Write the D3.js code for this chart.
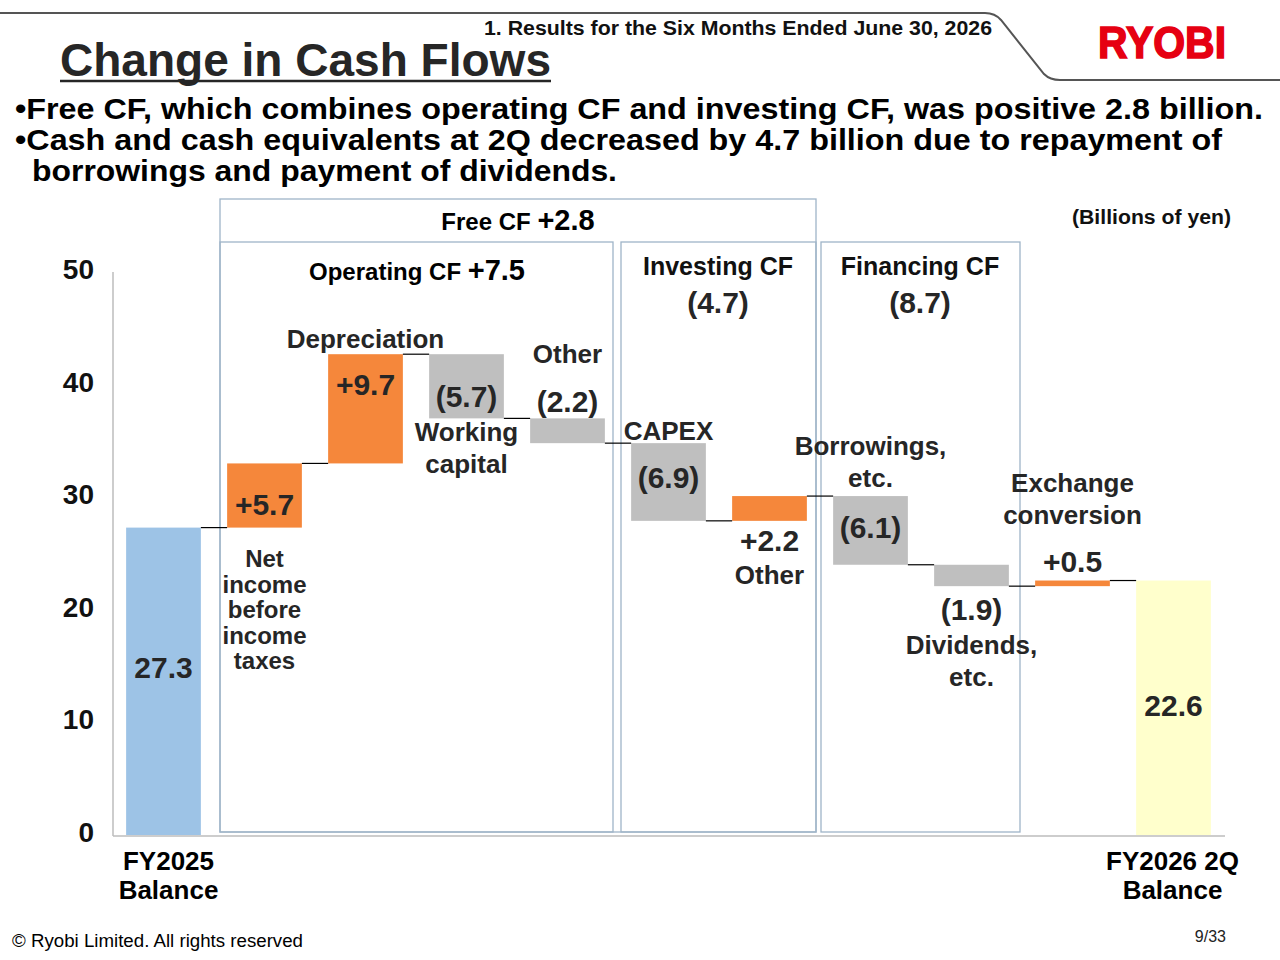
<!DOCTYPE html>
<html>
<head>
<meta charset="utf-8">
<script src="https://cdn.jsdelivr.net/npm/d3@7"></script>
<style>
  html, body { margin: 0; padding: 0; background: #fff; }
  svg { display: block; font-family: "Liberation Sans", Arial, sans-serif; }
</style>
</head>
<body>
<div id="chart"></div>
<script>
// waterfall data (billions of yen)
const categories = ['FY2025 Balance', 'Net income before income taxes', 'Depreciation',
    'Working capital', 'Other (operating)', 'CAPEX', 'Other (investing)',
    'Borrowings, etc.', 'Dividends, etc.', 'Exchange conversion', 'FY2026 2Q Balance'];
const values = [27.3, 5.7, 9.7, -5.7, -2.2, -6.9, 2.2, -6.1, -1.9, 0.5, 22.6];
const kinds = ['start', 'delta', 'delta', 'delta', 'delta', 'delta', 'delta', 'delta', 'delta', 'delta', 'end'];
const yTicks = [0, 10, 20, 30, 40, 50];

const groups = [
    { name: 'Free CF', total: '+2.8' },
    { name: 'Operating CF', total: '+7.5' },
    { name: 'Investing CF', total: '(4.7)' },
    { name: 'Financing CF', total: '(8.7)' }
];

const bullets = [
    '\u2022Free CF, which combines operating CF and investing CF, was positive 2.8 billion.',
    '\u2022Cash and cash equivalents at 2Q  decreased by 4.7 billion due to repayment of',
    'borrowings and payment of dividends.'
];

// label placement for each bar: [text, anchor, offset px, font size]
const labelLayout = [
    [['27.3', 'mid', 0, 30]],
    [['+5.7', 'bottom', -23, 30], ['Net', 'bottom', 31, 24], ['income', 'bottom', 57, 24],
     ['before', 'bottom', 82, 24], ['income', 'bottom', 108, 24], ['taxes', 'bottom', 133, 24]],
    [['Depreciation', 'top', -16, 26], ['+9.7', 'top', 30, 30]],
    [['(5.7)', 'top', 42, 30], ['Working', 'bottom', 13, 26], ['capital', 'bottom', 45, 26]],
    [['Other', 'top', -65, 26], ['(2.2)', 'top', -17, 30]],
    [['CAPEX', 'top', -13, 26], ['(6.9)', 'top', 34, 30]],
    [['+2.2', 'bottom', 19, 30], ['Other', 'bottom', 54, 26]],
    [['Borrowings,', 'top', -50, 26], ['etc.', 'top', -18, 26], ['(6.1)', 'top', 31, 30]],
    [['(1.9)', 'bottom', 23, 30], ['Dividends,', 'bottom', 58, 26], ['etc.', 'bottom', 90, 26]],
    [['Exchange', 'top', -98, 26], ['conversion', 'top', -66, 26], ['+0.5', 'top', -19, 30]],
    [['22.6', 'mid', 0, 30]]
];

const colors = { start: '#9dc3e6', end: '#ffffcc', up: '#f5873b', down: '#bfbfbf' };
const textColor = '#262626';

const W = 1280, H = 960;
const svg = d3.select('#chart').append('svg')
    .attr('width', W)
    .attr('height', H);

// ---- header ----
svg.append('path')
    .attr('d', 'M0,13 L985,13 Q995,13 1001,20 L1044,74 Q1050,80 1060,80 L1280,80')
    .attr('fill', 'none')
    .attr('stroke', '#555')
    .attr('stroke-width', 2);

svg.append('text')
    .attr('x', 992).attr('y', 35)
    .attr('text-anchor', 'end')
    .attr('font-size', 20).attr('font-weight', 'bold')
    .attr('fill', '#111')
    .attr('textLength', 508).attr('lengthAdjust', 'spacingAndGlyphs')
    .text('1. Results for the Six Months Ended June 30, 2026');

svg.append('text')
    .attr('x', 60).attr('y', 76)
    .attr('font-size', 46).attr('font-weight', 'bold')
    .attr('fill', '#262626')
    .attr('textLength', 491).attr('lengthAdjust', 'spacingAndGlyphs')
    .text('Change in Cash Flows');
svg.append('line')
    .attr('x1', 60).attr('x2', 551)
    .attr('y1', 81).attr('y2', 81)
    .attr('stroke', '#262626').attr('stroke-width', 2.5);

svg.append('text')
    .attr('x', 1098).attr('y', 58)
    .attr('font-size', 45).attr('font-weight', 'bold')
    .attr('fill', '#e60012')
    .attr('stroke', '#e60012').attr('stroke-width', 1.6)
    .attr('textLength', 128).attr('lengthAdjust', 'spacingAndGlyphs')
    .text('RYOBI');

const bulletPos = [[15, 119, 1248], [15, 150, 1207], [32, 181, 585]];
bullets.forEach((b, i) => {
    svg.append('text')
        .attr('x', bulletPos[i][0]).attr('y', bulletPos[i][1])
        .attr('font-size', 30).attr('font-weight', 'bold')
        .attr('fill', '#000')
        .attr('textLength', bulletPos[i][2]).attr('lengthAdjust', 'spacingAndGlyphs')
        .text(b);
});

// ---- chart ----
const x = d3.scaleBand()
    .domain(categories)
    .range([113, 1224])
    .paddingInner(0.26)
    .paddingOuter(0.13);

const y = d3.scaleLinear()
    .domain([0, 50])
    .range([835, 272]);

// running totals
let run = 0;
const bars = categories.map((c, i) => {
    let lo, hi, color;
    if (kinds[i] === 'delta') {
        const next = run + values[i];
        lo = Math.min(run, next); hi = Math.max(run, next);
        color = values[i] >= 0 ? colors.up : colors.down;
        run = next;
    } else {
        lo = 0; hi = values[i];
        color = kinds[i] === 'start' ? colors.start : colors.end;
        run = values[i];
    }
    return { c, i, lo, hi, color, level: run };
});

// group boxes
const boxStroke = '#9fb4c8';
const boxes = [
    { x0: 220, x1: 816, y0: 199 },
    { x0: 220, x1: 613, y0: 242 },
    { x0: 621, x1: 816, y0: 242 },
    { x0: 821, x1: 1020, y0: 242 }
];
boxes.forEach((b) => {
    svg.append('rect')
        .attr('x', b.x0).attr('y', b.y0)
        .attr('width', b.x1 - b.x0).attr('height', 832 - b.y0)
        .attr('fill', 'none')
        .attr('stroke', boxStroke)
        .attr('stroke-width', 1.3);
});

// axes
const yAxis = svg.append('g')
    .attr('transform', 'translate(113,0)')
    .call(d3.axisLeft(y).tickValues(yTicks).tickSize(0).tickPadding(19));
yAxis.select('.domain').attr('stroke', '#bdbdbd').attr('stroke-width', 1.5)
    .attr('d', 'M0,' + y(50) + 'V' + (y(0) + 1));
yAxis.selectAll('.tick')
    .attr('transform', (d) => 'translate(0,' + (y(d) - 2) + ')');
yAxis.selectAll('.tick text')
    .attr('font-size', 28).attr('font-weight', 'bold')
    .attr('font-family', '"Liberation Sans", Arial, sans-serif')
    .attr('fill', '#111');

svg.append('line')
    .attr('x1', 113).attr('x2', 1225)
    .attr('y1', y(0) + 1).attr('y2', y(0) + 1)
    .attr('stroke', '#bdbdbd').attr('stroke-width', 1.5);

// bars
svg.selectAll('.bar')
    .data(bars)
    .enter().append('rect')
    .attr('class', 'bar')
    .attr('x', (d) => x(d.c))
    .attr('y', (d) => y(d.hi))
    .attr('width', x.bandwidth())
    .attr('height', (d) => y(d.lo) - y(d.hi))
    .attr('fill', (d) => d.color);

// connectors
svg.selectAll('.conn')
    .data(bars.slice(0, -1))
    .enter().append('line')
    .attr('class', 'conn')
    .attr('x1', (d) => x(d.c) + x.bandwidth())
    .attr('x2', (d) => x(categories[d.i + 1]))
    .attr('y1', (d) => y(d.level))
    .attr('y2', (d) => y(d.level))
    .attr('stroke', '#000')
    .attr('stroke-width', 1.2);

// labels on bars
bars.forEach((d) => {
    const cx = x(d.c) + x.bandwidth() / 2;
    labelLayout[d.i].forEach(([t, anchor, off, size]) => {
        let base;
        if (anchor === 'top') base = y(d.hi);
        else if (anchor === 'bottom') base = y(d.lo);
        else base = (d.i === 0) ? y(d.hi) + 140 : y(d.hi) + 125;
        svg.append('text')
            .attr('x', cx)
            .attr('y', base + off)
            .attr('dy', '0.36em')
            .attr('text-anchor', 'middle')
            .attr('font-size', size).attr('font-weight', 'bold')
            .attr('fill', textColor)
            .text(t);
    });
});

// group titles
const freeT = svg.append('text')
    .attr('x', 518).attr('y', 230)
    .attr('text-anchor', 'middle')
    .attr('font-weight', 'bold').attr('fill', '#000');
freeT.append('tspan').attr('font-size', 24).text(groups[0].name + ' ');
freeT.append('tspan').attr('font-size', 29).text(groups[0].total);

const opT = svg.append('text')
    .attr('x', 417).attr('y', 280)
    .attr('text-anchor', 'middle')
    .attr('font-weight', 'bold').attr('fill', '#000');
opT.append('tspan').attr('font-size', 24).text(groups[1].name + ' ');
opT.append('tspan').attr('font-size', 29).text(groups[1].total);

[[718, groups[2]], [920, groups[3]]].forEach(([gx, g]) => {
    svg.append('text')
        .attr('x', gx).attr('y', 275)
        .attr('text-anchor', 'middle')
        .attr('font-size', 25).attr('font-weight', 'bold')
        .attr('fill', '#111')
        .text(g.name);
    svg.append('text')
        .attr('x', gx).attr('y', 313)
        .attr('text-anchor', 'middle')
        .attr('font-size', 30).attr('font-weight', 'bold')
        .attr('fill', '#262626')
        .text(g.total);
});

svg.append('text')
    .attr('x', 1231).attr('y', 224)
    .attr('text-anchor', 'end')
    .attr('font-size', 20).attr('font-weight', 'bold')
    .attr('fill', '#111')
    .attr('textLength', 159).attr('lengthAdjust', 'spacingAndGlyphs')
    .text('(Billions of yen)');

// x category labels for the balances
[[0, ['FY2025', 'Balance']], [10, ['FY2026 2Q', 'Balance']]].forEach(([i, lines]) => {
    const cx = x(categories[i]) + x.bandwidth() / 2 + (i === 0 ? 5 : -1);
    lines.forEach((l, k) => {
        svg.append('text')
            .attr('x', cx).attr('y', 870 + k * 29)
            .attr('text-anchor', 'middle')
            .attr('font-size', 26).attr('font-weight', 'bold')
            .attr('fill', '#000')
            .text(l);
    });
});

// footer
svg.append('text')
    .attr('x', 12).attr('y', 947)
    .attr('font-size', 18)
    .attr('fill', '#000')
    .attr('textLength', 291).attr('lengthAdjust', 'spacingAndGlyphs')
    .text('\u00a9 Ryobi Limited. All rights reserved');
svg.append('text')
    .attr('x', 1226).attr('y', 942)
    .attr('text-anchor', 'end')
    .attr('font-size', 16)
    .attr('fill', '#222')
    .text('9/33');
</script>
</body>
</html>
